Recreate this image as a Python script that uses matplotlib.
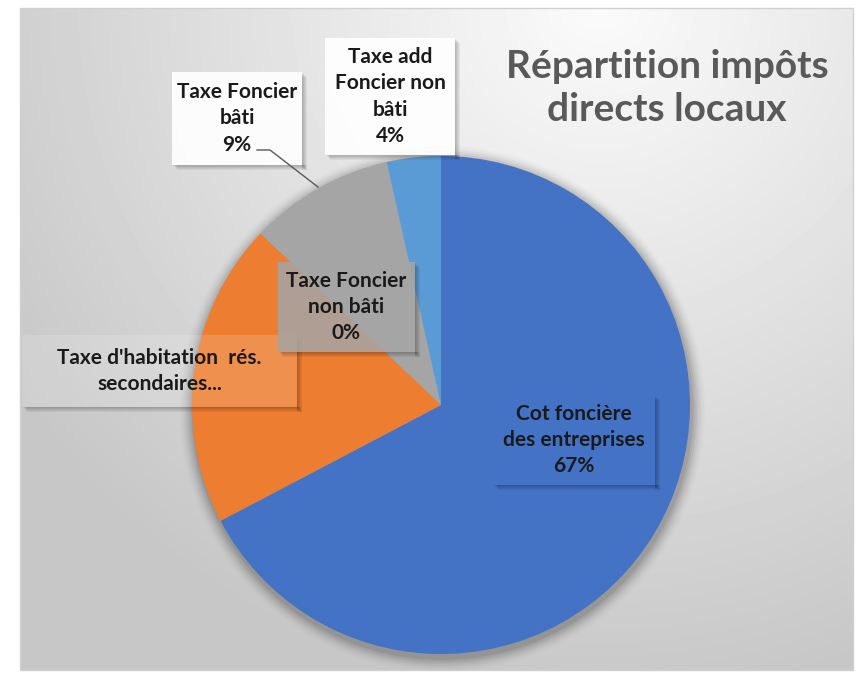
import numpy as np
import matplotlib.pyplot as plt
from matplotlib.patches import Rectangle, Circle

plt.rcParams['font.family'] = ['Lato', 'DejaVu Sans']

# Données
categories = ["Cot foncière\ndes entreprises", "Taxe d'habitation  rés.\nsecondaires...",
              "Taxe Foncier\nnon bâti", "Taxe Foncier\nbâti", "Taxe add\nFoncier non\nbâti"]
valeurs = [67.3, 19.8, 0.2, 9.2, 3.5]
pourcentages = ["67%", "", "0%", "9%", "4%"]
couleurs = ["#4472C4", "#ED7D31", "#A5A5A5", "#A5A5A5", "#5B9BD5"]

W, H = 867, 675
fig = plt.figure(figsize=(W / 100, H / 100), dpi=100)

# fond avec dégradé radial
bg = fig.add_axes([0, 0, 1, 1], zorder=0)
bg.set_xlim(0, W)
bg.set_ylim(H, 0)
bg.axis('off')
yy, xx = np.mgrid[0:H, 0:W]
d = np.sqrt((xx - 600) ** 2 + (yy - 0) ** 2) / 700
grad = 0.985 - 0.205 * np.clip(d, 0, 1)
img = np.ones((H, W))
img[8:670, 20:853] = grad[8:670, 20:853]
bg.imshow(img, cmap='gray', vmin=0, vmax=1, extent=(0, W, H, 0), aspect='auto')
bg.add_patch(Rectangle((20, 8), 833, 662, fill=False, edgecolor='#d0d0d0', lw=1))

# camembert
cx, cy, r = 441, 405, 249
ax = fig.add_axes([(cx - r) / W, (H - cy - r) / H, 2 * r / W, 2 * r / H], zorder=1)
for i, a in enumerate(np.linspace(0.07, 0.01, 7)):
    ax.add_patch(Circle((0.005, -0.015), 1.0 + 0.008 * (i + 1), color='black', alpha=a, lw=0, clip_on=False))
ax.pie(valeurs, colors=couleurs, startangle=90, counterclock=False, radius=1,
       wedgeprops=dict(linewidth=0))
ax.set_xlim(-1, 1)
ax.set_ylim(-1, 1)
ax.axis('off')

# étiquettes
ov = fig.add_axes([0, 0, 1, 1], zorder=2)
ov.set_xlim(0, W)
ov.set_ylim(H, 0)
ov.axis('off')

boites = [(493, 395, 162, 90), (22, 335, 275, 72), (278, 262, 137, 90), (172, 72, 130, 93), (325, 38, 130, 117)]
fonds = [("#4472C4", 1.0), ("white", 0.15), ("#A5A5A5", 0.85), ("white", 0.92), ("white", 0.92)]

for (x, y, w, h), (fc, al), cat, pct in zip(boites, fonds, categories, pourcentages):
    for k in range(1, 6):
        ov.add_patch(Rectangle((x + w, y + k), k, h, color='black', alpha=0.05, lw=0))
        ov.add_patch(Rectangle((x + k, y + h), w, k, color='black', alpha=0.05, lw=0))
    ov.add_patch(Rectangle((x, y), w, h, facecolor=fc, alpha=al, lw=0))
    txt = cat + ("\n" + pct if pct else "")
    ov.text(x + w / 2, y + h / 2, txt, ha='center', va='center', fontsize=15,
            fontweight='bold', color='#1a1a1a', linespacing=1.4)

# ligne de rappel
ov.plot([257, 270, 318], [150, 150, 187], color='#595959', lw=1)

ov.text(667, 88, "Répartition impôts\ndirects locaux", ha='center', va='center',
        fontsize=28, fontweight='bold', color='#595959', linespacing=1.3)

fig.savefig("out.png", dpi=100)
